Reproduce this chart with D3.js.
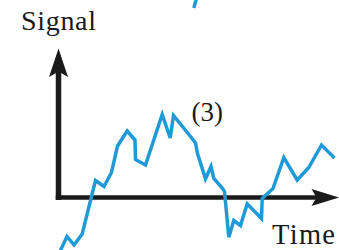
<!DOCTYPE html>
<html>
<head>
<meta charset="utf-8">
<script src="https://cdn.jsdelivr.net/npm/d3@7"></script>
<style>
  html, body { margin: 0; padding: 0; background: #fff; }
  svg { display: block; }
</style>
</head>
<body>
<svg id="chart" width="339" height="250"></svg>
<script>
// ---- data (time units, signal units; signal 0 = time axis) ----
const time   = [0.0, 0.85, 1.55, 2.37, 3.7, 4.55, 5.3, 5.9, 6.87, 7.65, 7.7, 8.7, 10.37, 11.17, 11.5, 13.2, 13.7, 13.9, 14.7, 15.25, 15.53, 16.37, 16.6, 17.03, 17.53, 18.2, 18.87, 20.3, 20.37, 21.45, 22.53, 23.87, 25.03, 26.3, 27.6];
const signal = [-5.7, -3.9, -4.75, -3.65, 1.7, 1.1, 2.5, 5.15, 6.65, 5.75, 3.8, 3.25, 8.3, 5.95, 8.2, 6.1, 5.45, 4.4, 1.87, 3.1, 1.9, 0.95, 0.6, -3.97, -2.3, -2.8, -0.63, -2.1, -0.1, 0.9, 4.0, 1.75, 3.0, 5.25, 3.95];
// tail of the neighbouring panel's trace, visible at the very top
const tailTime   = [13.88, 13.53];
const tailSignal = [20.2, 18.95];

const yLabel = "Signal";
const xLabel = "Time";
const panelLabel = "(3)";

// ---- scales ----
const x = d3.scaleLinear().domain([0, 28]).range([58.5, 338.5]);
const y = d3.scaleLinear().domain([-5, 15]).range([247.5, 47.5]);

const svg = d3.select("#chart");
const blue = "#1f9ad6";
const ink = "#1a1a1a";
const serif = "'Liberation Serif', 'Times New Roman', serif";

// ---- axes (arrows) ----
const x0 = x(0), y0 = y(0);
svg.append("line")
  .attr("x1", x0).attr("x2", x0)
  .attr("y1", y(13)).attr("y2", y0 + 2.5)
  .attr("stroke", ink).attr("stroke-width", 5.5);
svg.append("line")
  .attr("x1", x0 - 2.75).attr("x2", x(27))
  .attr("y1", y0).attr("y2", y0)
  .attr("stroke", ink).attr("stroke-width", 4.5);

// vertical arrowhead
const tipY = y(14.9);
svg.append("path")
  .attr("d", `M${x0},${tipY} L${x0 + 9.5},${tipY + 28.5} L${x0},${tipY + 23} L${x0 - 9.5},${tipY + 28.5} Z`)
  .attr("fill", ink);
// horizontal arrowhead
const tipX = x(28.05);
svg.append("path")
  .attr("d", `M${tipX},${y0} L${tipX - 27.5},${y0 - 8.5} L${tipX - 22.5},${y0} L${tipX - 27.5},${y0 + 8.5} Z`)
  .attr("fill", ink);

// ---- signal trace ----
const line = d3.line().x(d => x(d[0])).y(d => y(d[1]));
svg.append("path")
  .attr("d", line(d3.zip(time, signal)))
  .attr("fill", "none").attr("stroke", blue)
  .attr("stroke-width", 3.5).attr("stroke-linejoin", "miter").attr("stroke-miterlimit", 4);
svg.append("path")
  .attr("d", line(d3.zip(tailTime, tailSignal)))
  .attr("fill", "none").attr("stroke", blue).attr("stroke-width", 3.5);

// ---- text ----
svg.append("text")
  .attr("x", 21).attr("y", 29.5)
  .attr("font-family", serif).attr("font-size", 28)
  .attr("textLength", 75).attr("lengthAdjust", "spacing")
  .attr("fill", ink).text(yLabel);
svg.append("text")
  .attr("x", 272).attr("y", 244)
  .attr("font-family", serif).attr("font-size", 28.5)
  .attr("textLength", 63).attr("lengthAdjust", "spacing")
  .attr("fill", ink).text(xLabel);
svg.append("text")
  .attr("x", 283).attr("y", 0.3)
  .attr("font-family", serif).attr("font-size", 28.5)
  .attr("fill", ink).text(xLabel);
svg.append("text")
  .attr("x", 191.5).attr("y", 120.5)
  .attr("font-family", serif).attr("font-size", 27)
  .attr("fill", ink).text(panelLabel);
</script>
</body>
</html>
